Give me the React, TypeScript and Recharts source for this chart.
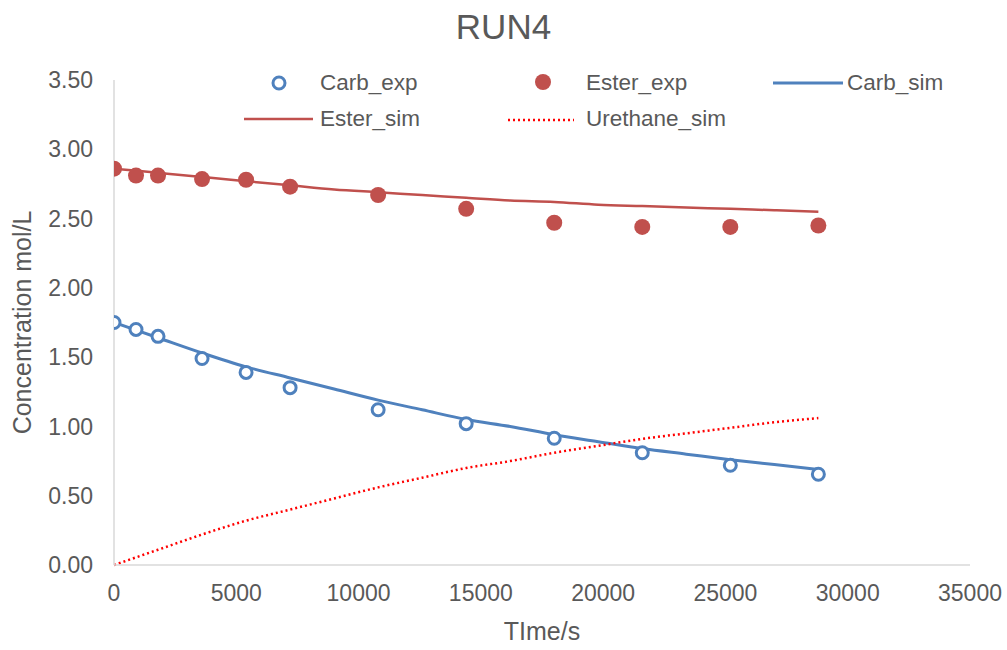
import React from 'react';
import {
  ComposedChart,
  XAxis,
  YAxis,
  Scatter,
  Line,
} from 'recharts';

const expTimes = [0, 900, 1800, 3600, 5400, 7200, 10800, 14400, 18000, 21600, 25200, 28800];
const carbExp = [1.75, 1.70, 1.65, 1.49, 1.39, 1.28, 1.12, 1.02, 0.915, 0.81, 0.72, 0.655];
const esterExp = [2.86, 2.81, 2.81, 2.785, 2.78, 2.73, 2.67, 2.57, 2.47, 2.44, 2.44, 2.45];

const simTimes = [0, 1800, 3600, 5400, 7200, 9000, 10800, 12600, 14400, 16200, 18000, 19800, 21600, 23400, 25200, 27000, 28800];
const carbSim = [1.75, 1.64, 1.53, 1.43, 1.35, 1.27, 1.19, 1.12, 1.05, 1.0, 0.94, 0.89, 0.84, 0.80, 0.76, 0.725, 0.69];
const esterSim = [2.86, 2.83, 2.80, 2.77, 2.74, 2.71, 2.69, 2.67, 2.65, 2.63, 2.62, 2.60, 2.59, 2.58, 2.57, 2.56, 2.55];
const urethaneSim = [0, 0.11, 0.22, 0.32, 0.40, 0.48, 0.56, 0.63, 0.70, 0.75, 0.81, 0.86, 0.91, 0.95, 0.99, 1.03, 1.06];

const xTicks = [0, 5000, 10000, 15000, 20000, 25000, 30000, 35000];
const yTicks = [0, 0.5, 1, 1.5, 2, 2.5, 3, 3.5];

const carbExpData = expTimes.map((t, i) => ({ t, v: carbExp[i] }));
const esterExpData = expTimes.map((t, i) => ({ t, v: esterExp[i] }));
const carbSimData = simTimes.map((t, i) => ({ t, v: carbSim[i] }));
const esterSimData = simTimes.map((t, i) => ({ t, v: esterSim[i] }));
const urethaneSimData = simTimes.map((t, i) => ({ t, v: urethaneSim[i] }));

const BLUE = '#4f81bd';
const RED = '#c0504d';
const TEXT = '#595959';
const FONT = '"Liberation Sans", Arial, sans-serif';

const OpenCircle = (props: any) => (
  <circle cx={props.cx} cy={props.cy} r={6} fill="#fff" stroke={BLUE} strokeWidth={3} />
);
const FilledCircle = (props: any) => (
  <circle cx={props.cx} cy={props.cy} r={8} fill={RED} />
);

const legendText = {
  position: 'absolute' as const,
  fontSize: 22.5,
  color: TEXT,
  fontFamily: FONT,
  lineHeight: '26px',
  whiteSpace: 'nowrap' as const,
};

// legend drawn over the plot, like the Excel one
const ChartLegend = () => (
  <div style={{ position: 'absolute', left: 0, top: 0, width: 1007, height: 140, pointerEvents: 'none' }}>
    <svg style={{ position: 'absolute', left: 0, top: 0 }} width={1007} height={140}>
      <circle cx={279} cy={83} r={6} fill="#fff" stroke={BLUE} strokeWidth={3} />
      <circle cx={543} cy={82} r={8} fill={RED} />
      <line x1={773} y1={83} x2={843} y2={83} stroke={BLUE} strokeWidth={3} />
      <line x1={244} y1={119} x2={313} y2={119} stroke={RED} strokeWidth={2.5} />
      <line x1={508} y1={120} x2={574} y2={120} stroke="#ff0000" strokeWidth={2.5} strokeDasharray="2 3" />
    </svg>
    <span style={{ ...legendText, left: 320, top: 70 }}>Carb_exp</span>
    <span style={{ ...legendText, left: 586, top: 70 }}>Ester_exp</span>
    <span style={{ ...legendText, left: 847, top: 70 }}>Carb_sim</span>
    <span style={{ ...legendText, left: 320, top: 106 }}>Ester_sim</span>
    <span style={{ ...legendText, left: 586, top: 106 }}>Urethane_sim</span>
  </div>
);

export default function App() {
  return (
    <div style={{ position: 'absolute', left: 0, top: 0, width: 1007, height: 650, background: '#fff', fontFamily: FONT }}>
      <div style={{ position: 'absolute', top: 6, width: 1007, textAlign: 'center', fontSize: 35, lineHeight: '42px', color: TEXT }}>
        RUN4
      </div>
      <ComposedChart
        width={1007}
        height={650}
        margin={{ top: 80, right: 37, left: 54, bottom: 10 }}
        style={{ fontFamily: FONT }}
      >
        <XAxis
          type="number"
          dataKey="t"
          domain={[0, 35000]}
          ticks={xTicks}
          allowDataOverflow
          tickLine={false}
          axisLine={{ stroke: '#d9d9d9', strokeWidth: 1.5 }}
          tick={{ fontSize: 23, fill: TEXT }}
          tickMargin={14}
          height={75}
          label={{ value: 'TIme/s', position: 'insideBottom', offset: 0, fontSize: 25, fill: TEXT }}
        />
        <YAxis
          type="number"
          dataKey="v"
          domain={[0, 3.5]}
          ticks={yTicks}
          tickFormatter={(v: number) => v.toFixed(2)}
          tickLine={false}
          axisLine={{ stroke: '#d9d9d9', strokeWidth: 1.5 }}
          tick={{ fontSize: 23, fill: TEXT }}
          tickMargin={15}
          width={60}
          label={{ value: 'Concentration mol/L', angle: -90, position: 'insideLeft', offset: -32, fontSize: 25, fill: TEXT, style: { textAnchor: 'middle' } }}
        />
        <Line data={carbSimData} dataKey="v" type="monotone" stroke={BLUE} strokeWidth={3} dot={false} isAnimationActive={false} />
        <Line data={esterSimData} dataKey="v" type="monotone" stroke={RED} strokeWidth={2.5} dot={false} isAnimationActive={false} />
        <Line data={urethaneSimData} dataKey="v" type="monotone" stroke="#ff0000" strokeWidth={2.5} strokeDasharray="2 3" dot={false} isAnimationActive={false} />
        <Scatter data={carbExpData} dataKey="v" shape={OpenCircle} isAnimationActive={false} />
        <Scatter data={esterExpData} dataKey="v" shape={FilledCircle} isAnimationActive={false} />
      </ComposedChart>
      <ChartLegend />
    </div>
  );
}
